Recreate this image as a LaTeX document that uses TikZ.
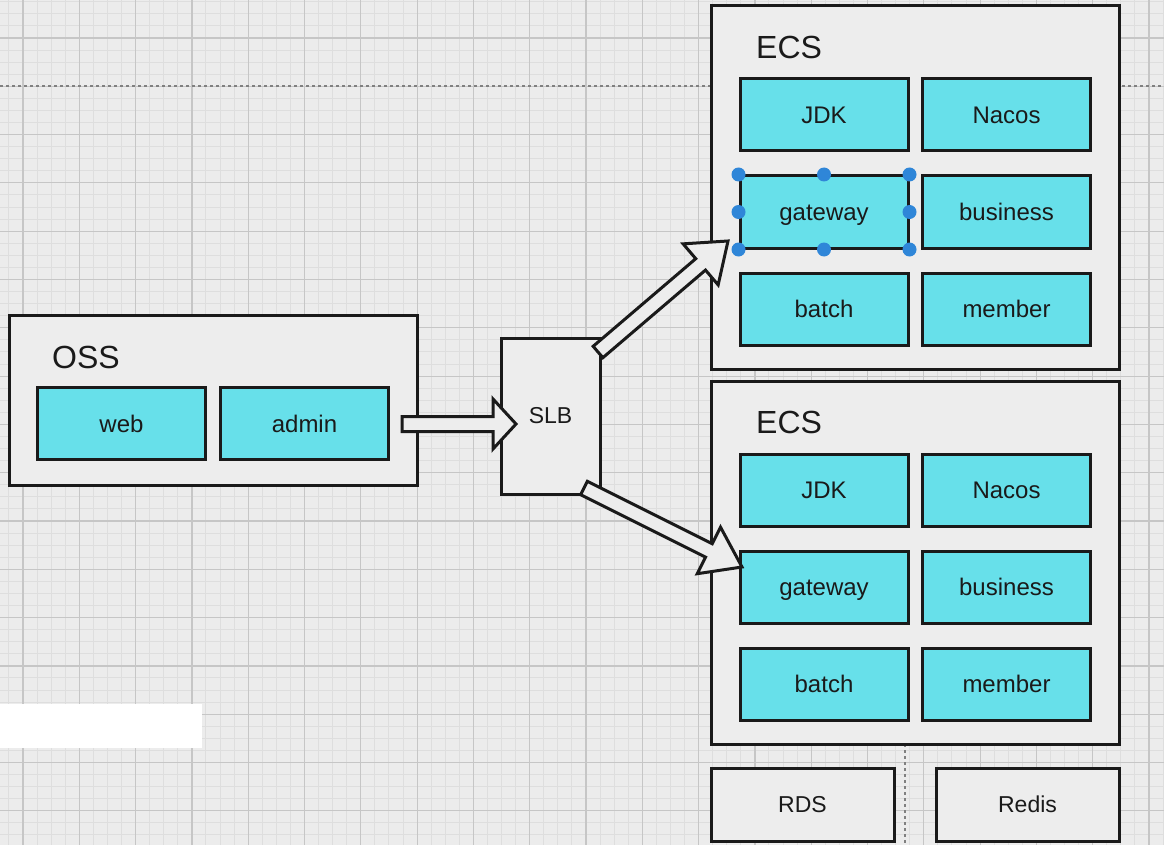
\documentclass[tikz,border=0pt]{standalone}
\usepackage{fontspec}
\setmainfont{Liberation Sans}
\usetikzlibrary{calc}
\definecolor{svccyan}{HTML}{67E0EA}
\definecolor{boxgray}{HTML}{EDEDED}
\definecolor{paper}{HTML}{ECECEC}
\definecolor{gridminor}{HTML}{DEDEDE}
\definecolor{gridmajor}{HTML}{C6C6C6}
\definecolor{handleblue}{HTML}{2F86D8}
\definecolor{inkdark}{HTML}{1A1A1A}
\tikzset{
  group/.style={draw=inkdark, fill=boxgray, line width=3pt, inner sep=0pt},
  svc/.style={draw=inkdark, fill=svccyan, line width=3pt, minimum width=168pt,
    minimum height=72pt, inner sep=0pt, text=inkdark, text height=22.2pt, text depth=5pt,
    font=\fontsize{24}{28}\selectfont},
  grouptitle/.style={anchor=west, inner sep=0pt, text=inkdark, font=\fontsize{32}{38}\selectfont},
  blockarrow/.style={draw=inkdark, fill=boxgray, line width=3pt, line join=miter},
  minorgrid/.style={draw=gridminor, line width=1pt},
  majorgrid/.style={draw=gridmajor, line width=1.2pt},
  guide/.style={draw=gray, dashed, line width=1.2pt},
}
% outlined block arrow: tail, tip, head length, head half width
\newcommand{\blockarrow}[4]{%
  \coordinate (ba-h) at ($(#2)!#3!(#1)$);
  \draw[blockarrow] ($(#1)!7.5pt!90:(#2)$) -- ($(ba-h)!7.5pt!90:(#2)$)
    -- ($(ba-h)!#4!90:(#2)$) -- (#2) -- ($(ba-h)!#4!-90:(#2)$)
    -- ($(ba-h)!7.5pt!-90:(#2)$) -- ($(#1)!7.5pt!-90:(#2)$) -- cycle;
}
\begin{document}
\begin{tikzpicture}[x=1pt, y=-1pt]
\useasboundingbox (0,0) rectangle (1164,845);
\fill[paper] (0,0) rectangle (1164,845);
% grid
\foreach \i in {-1,...,81}
{
    \draw[minorgrid] ({23+\i*14.075},0)--({23+\i*14.075},845);
}
\foreach \j in {-3,...,66}
{
    \draw[minorgrid] (0,{38+\j*12.075})--(1164,{38+\j*12.075});
}
\foreach \i in {0,...,20}
{
    \draw[majorgrid] ({23+\i*56.3},0)--({23+\i*56.3},845);
}
\foreach \j in {0,...,16}
{
    \draw[majorgrid] (0,{38+\j*48.3})--(1164,{38+\j*48.3});
}
\draw[guide] (0,86)--(1164,86);
\draw[guide] (905,744)--(905,845);
\fill[white] (0,704) rectangle (202,748);

% OSS
\node[group, minimum width=408pt, minimum height=170pt] (oss) at (213,400) {};
\node[grouptitle] (osstitle) at (52,357) {OSS};
\node[svc] (web) at (121.5,423.5) {web};
\node[svc] (admin) at (304.5,423.5) {admin};

% SLB
\node[group, minimum width=99pt, minimum height=156pt, text=inkdark,
  font=\fontsize{23}{27}\selectfont] (slb) at (550.5,416) {SLB};

% ECS groups
\foreach \k/\top in {1/6, 2/381}
{
    \node[group, minimum width=408pt, minimum height=363pt] (ecs\k) at (915,\top+181.5) {};
    \node[grouptitle] (ecstitle\k) at (756,\top+41) {ECS};
    \node[svc] (jdk\k) at (824,\top+109) {JDK};
    \node[svc] (nacos\k) at (1006.5,\top+109) {Nacos};
    \node[svc] (gateway\k) at (824,\top+206) {gateway};
    \node[svc] (business\k) at (1006.5,\top+206) {business};
    \node[svc] (batch\k) at (824,\top+303) {batch};
    \node[svc] (member\k) at (1006.5,\top+303) {member};
}

% storage
\node[group, minimum width=183pt, minimum height=73pt, text=inkdark,
  font=\fontsize{23}{27}\selectfont] (rds) at (802.5,804.5) {RDS};
\node[group, minimum width=183pt, minimum height=73pt, text=inkdark,
  font=\fontsize{23}{27}\selectfont] (redis) at (1027.5,804.5) {Redis};

% arrows
\coordinate (a1) at (402,424);
\coordinate (b1) at (516,424);
\coordinate (a2) at (598,352);
\coordinate (b2) at (728,241);
\coordinate (a3) at (584,488);
\coordinate (b3) at (742,567);
\blockarrow{a1}{b1}{23pt}{25pt}
\blockarrow{a2}{b2}{36pt}{27pt}
\blockarrow{a3}{b3}{37pt}{26pt}

% selection handles
\foreach \a in {north west, north, north east, east, south east, south, south west, west}
{
    \fill[handleblue] (gateway1.\a) circle (7pt);
}
\end{tikzpicture}
\end{document}
